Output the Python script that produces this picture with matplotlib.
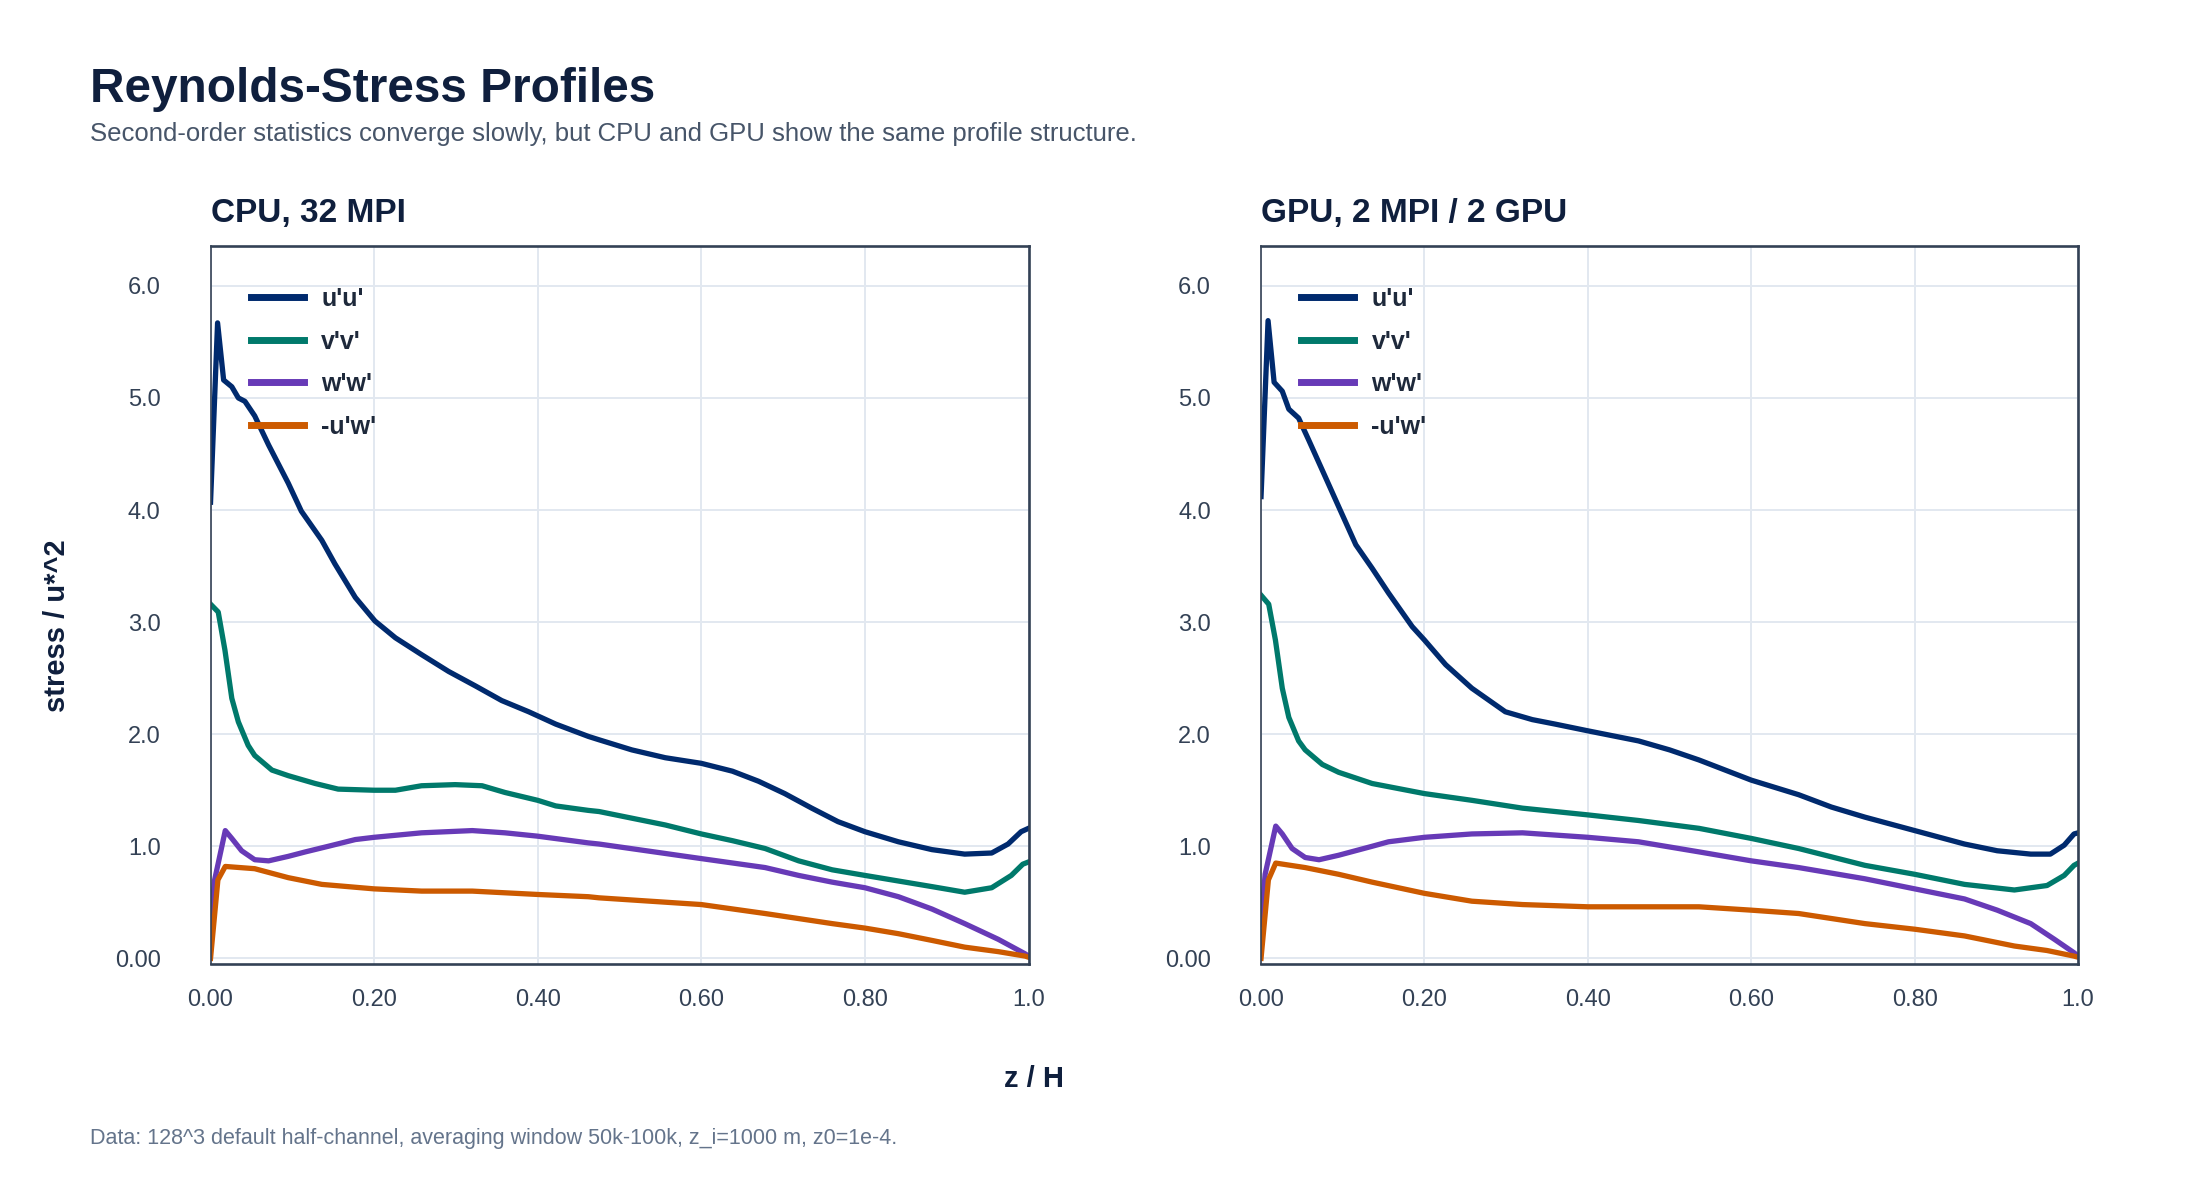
import numpy as np
import matplotlib
matplotlib.use("Agg")
import matplotlib.pyplot as plt

plt.rcParams['font.family'] = ['Liberation Sans', 'DejaVu Sans']

# ---- data ----
series_names = ["u'u'", "v'v'", "w'w'", "-u'w'"]
series_colors = ['#002a6e', '#00796b', '#673ab7', '#cc5a00']

# CPU, 32 MPI
cpu_uu_z = [0.0, 0.0086, 0.016, 0.026, 0.034, 0.042, 0.054, 0.071, 0.095, 0.111, 0.136, 0.152,
            0.177, 0.201, 0.226, 0.258, 0.291, 0.324, 0.356, 0.389, 0.422, 0.462, 0.475, 0.515,
            0.556, 0.6, 0.638, 0.67, 0.702, 0.735, 0.767, 0.8, 0.841, 0.882, 0.922, 0.955,
            0.975, 0.991, 1.0]
cpu_uu = [4.07, 5.67, 5.16, 5.10, 5.00, 4.97, 4.84, 4.58, 4.24, 3.99, 3.73, 3.52,
          3.22, 3.01, 2.86, 2.71, 2.56, 2.43, 2.30, 2.20, 2.09, 1.98, 1.95, 1.86,
          1.79, 1.74, 1.67, 1.58, 1.47, 1.34, 1.22, 1.13, 1.04, 0.97, 0.93, 0.94,
          1.02, 1.13, 1.16]

cpu_vv_z = [0.0, 0.0094, 0.0176, 0.026, 0.034, 0.046, 0.054, 0.075, 0.095, 0.128, 0.156, 0.2,
            0.226, 0.258, 0.299, 0.332, 0.36, 0.4, 0.422, 0.462, 0.475, 0.556, 0.6, 0.638,
            0.678, 0.719, 0.76, 0.8, 0.841, 0.882, 0.922, 0.955, 0.979, 0.993, 1.0]
cpu_vv = [3.16, 3.09, 2.75, 2.32, 2.11, 1.90, 1.81, 1.68, 1.63, 1.56, 1.51, 1.50,
          1.50, 1.54, 1.55, 1.54, 1.48, 1.41, 1.36, 1.32, 1.31, 1.19, 1.11, 1.05,
          0.98, 0.87, 0.79, 0.74, 0.69, 0.64, 0.59, 0.63, 0.74, 0.84, 0.86]

cpu_ww_z = [0.0, 0.005, 0.018, 0.026, 0.038, 0.054, 0.071, 0.095, 0.116, 0.144, 0.177, 0.2,
            0.258, 0.32, 0.36, 0.4, 0.462, 0.475, 0.6, 0.678, 0.719, 0.76, 0.8, 0.841,
            0.882, 0.922, 0.963, 0.996, 1.0]
cpu_ww = [0.30, 0.70, 1.14, 1.07, 0.96, 0.88, 0.87, 0.91, 0.95, 1.00, 1.06, 1.08,
          1.12, 1.14, 1.12, 1.09, 1.03, 1.02, 0.89, 0.81, 0.74, 0.68, 0.63, 0.55,
          0.44, 0.31, 0.17, 0.04, 0.02]

cpu_uw_z = [0.0, 0.009, 0.018, 0.054, 0.095, 0.136, 0.2, 0.258, 0.32, 0.4, 0.462, 0.475,
            0.6, 0.678, 0.76, 0.8, 0.841, 0.882, 0.922, 0.963, 0.996, 1.0]
cpu_uw = [0.0, 0.70, 0.82, 0.80, 0.72, 0.66, 0.62, 0.60, 0.60, 0.57, 0.55, 0.54,
          0.48, 0.40, 0.31, 0.27, 0.22, 0.16, 0.10, 0.06, 0.02, 0.01]

# GPU, 2 MPI / 2 GPU
gpu_uu_z = [0.0, 0.0086, 0.016, 0.026, 0.034, 0.046, 0.058, 0.079, 0.095, 0.116, 0.136, 0.156,
            0.185, 0.2, 0.226, 0.258, 0.299, 0.332, 0.36, 0.4, 0.462, 0.5, 0.536, 0.6,
            0.658, 0.698, 0.739, 0.8, 0.861, 0.901, 0.942, 0.966, 0.983, 0.995, 1.0]
gpu_uu = [4.12, 5.69, 5.14, 5.06, 4.90, 4.82, 4.63, 4.29, 4.03, 3.69, 3.48, 3.26,
          2.96, 2.84, 2.62, 2.41, 2.20, 2.13, 2.09, 2.03, 1.94, 1.86, 1.77, 1.59,
          1.46, 1.35, 1.26, 1.14, 1.02, 0.96, 0.93, 0.93, 1.01, 1.11, 1.12]

gpu_vv_z = [0.0, 0.0094, 0.0176, 0.026, 0.034, 0.046, 0.054, 0.075, 0.095, 0.136, 0.2, 0.258,
            0.32, 0.4, 0.462, 0.536, 0.6, 0.658, 0.739, 0.8, 0.861, 0.922, 0.962, 0.983,
            0.995, 1.0]
gpu_vv = [3.24, 3.16, 2.84, 2.41, 2.15, 1.94, 1.86, 1.73, 1.66, 1.56, 1.47, 1.41,
          1.34, 1.28, 1.23, 1.16, 1.07, 0.98, 0.83, 0.75, 0.66, 0.61, 0.65, 0.74,
          0.83, 0.85]

gpu_ww_z = [0.0, 0.005, 0.018, 0.026, 0.038, 0.054, 0.071, 0.095, 0.136, 0.156, 0.2, 0.258,
            0.32, 0.4, 0.462, 0.536, 0.6, 0.658, 0.739, 0.8, 0.861, 0.901, 0.942, 0.971,
            0.995, 1.0]
gpu_ww = [0.30, 0.75, 1.18, 1.11, 0.98, 0.90, 0.88, 0.92, 1.00, 1.04, 1.08, 1.11,
          1.12, 1.08, 1.04, 0.95, 0.87, 0.81, 0.71, 0.62, 0.53, 0.43, 0.31, 0.17,
          0.05, 0.02]

gpu_uw_z = [0.0, 0.009, 0.018, 0.054, 0.095, 0.136, 0.2, 0.258, 0.32, 0.4, 0.462, 0.536,
            0.6, 0.658, 0.739, 0.8, 0.861, 0.922, 0.962, 0.995, 1.0]
gpu_uw = [0.0, 0.70, 0.85, 0.81, 0.75, 0.68, 0.58, 0.51, 0.48, 0.46, 0.46, 0.46,
          0.43, 0.40, 0.31, 0.26, 0.20, 0.11, 0.07, 0.02, 0.01]

panel_titles = ['CPU, 32 MPI', 'GPU, 2 MPI / 2 GPU']
xticks = [0.0, 0.2, 0.4, 0.6, 0.8, 1.0]
xtick_labels = ['0.00', '0.20', '0.40', '0.60', '0.80', '1.0']
yticks = [0, 1, 2, 3, 4, 5, 6]
ytick_labels = ['0.00', '1.0', '2.0', '3.0', '4.0', '5.0', '6.0']

panels = [
    [(cpu_uu_z, cpu_uu), (cpu_vv_z, cpu_vv), (cpu_ww_z, cpu_ww), (cpu_uw_z, cpu_uw)],
    [(gpu_uu_z, gpu_uu), (gpu_vv_z, gpu_vv), (gpu_ww_z, gpu_ww), (gpu_uw_z, gpu_uw)],
]

# ---- figure ----
fig = plt.figure(figsize=(22, 12), dpi=100)
fig.patch.set_facecolor('white')

axes_pos = [[0.0957, 0.1967, 0.3718, 0.5987], [0.5732, 0.1967, 0.3714, 0.5987]]
spine_col = '#334155'
grid_col = '#e2e8f0'
tick_col = '#334155'
dark = '#0f1f3d'

for i, (pos, data) in enumerate(zip(axes_pos, panels)):
    ax = fig.add_axes(pos)
    for (z, v), name, col in zip(data, series_names, series_colors):
        ax.plot(z, v, color=col, lw=3.8, label=name, solid_joinstyle='round')
    ax.set_xlim(0, 1)
    ax.set_ylim(-0.05, 6.36)
    ax.set_xticks(xticks)
    ax.set_xticklabels(xtick_labels)
    ax.set_yticks(yticks)
    ax.set_yticklabels(ytick_labels)
    ax.grid(True, color=grid_col, lw=1.4)
    ax.set_axisbelow(True)
    ax.tick_params(length=0, labelsize=17, colors=tick_col)
    ax.tick_params(axis='x', pad=18)
    ax.tick_params(axis='y', pad=36)
    for s in ['top', 'bottom', 'right']:
        ax.spines[s].set_color(spine_col)
        ax.spines[s].set_linewidth(1.9)
    ax.spines['left'].set_color(spine_col)
    ax.spines['left'].set_linewidth(1.2)
    leg = ax.legend(loc='upper left', bbox_to_anchor=(0.0495, 0.942), frameon=False,
                    borderaxespad=0, borderpad=0, handlelength=2.1, handletextpad=0.7,
                    labelspacing=0.74, prop={'size': 18, 'weight': 'bold'})
    for t in leg.get_texts():
        t.set_color('#1e293b')
    for l in leg.get_lines():
        l.set_linewidth(5.0)
    fig.text(pos[0], 0.815, panel_titles[i], fontsize=24, fontweight='bold',
             color=dark, ha='left', va='baseline')

fig.text(0.0408, 0.915, 'Reynolds-Stress Profiles', fontsize=34.4, fontweight='bold',
         color=dark, ha='left', va='baseline')
fig.text(0.0408, 0.8825,
         'Second-order statistics converge slowly, but CPU and GPU show the same profile structure.',
         fontsize=18.5, color='#475569', ha='left', va='baseline')
fig.text(0.470, 0.094, 'z / H', fontsize=21, fontweight='bold', color=dark,
         ha='center', va='baseline')
fig.text(0.026, 0.479, 'stress / u*^2', fontsize=21, fontweight='bold', color=dark,
         ha='center', va='center', rotation=90)
fig.text(0.0408, 0.0467,
         'Data: 128^3 default half-channel, averaging window 50k-100k, z_i=1000 m, z0=1e-4.',
         fontsize=15.5, color='#64748b', ha='left', va='baseline')

fig.savefig('out.png', dpi=100, facecolor='white')
